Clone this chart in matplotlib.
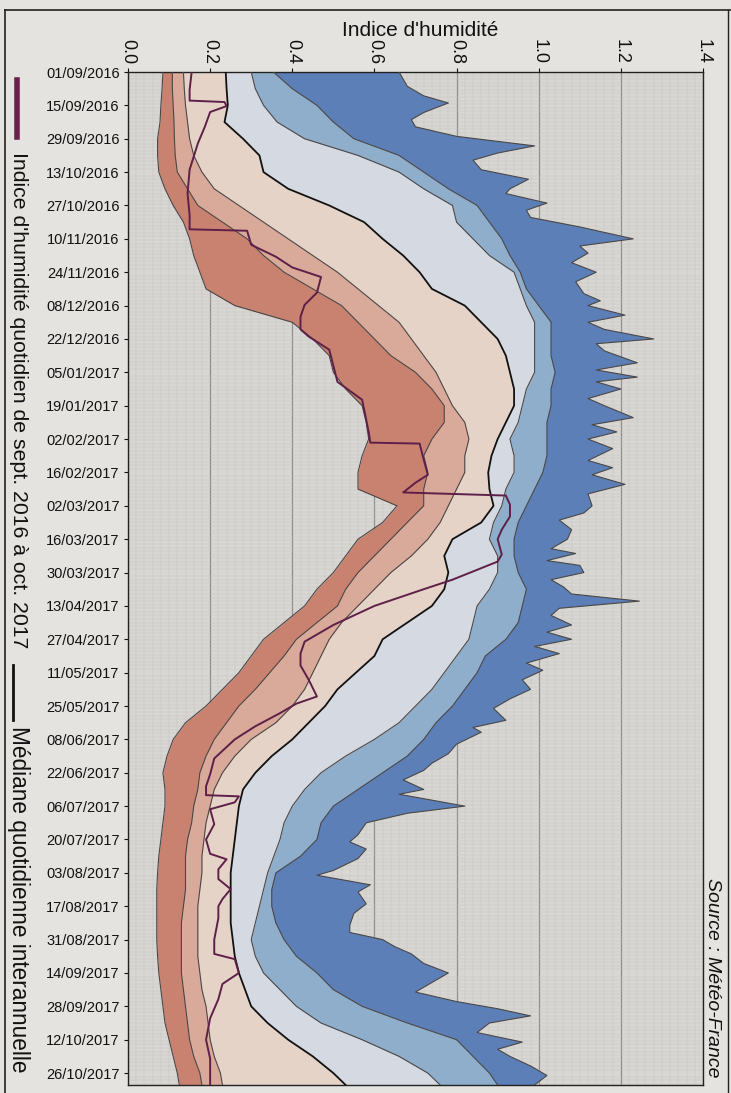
import numpy as np
import pandas as pd
import matplotlib
matplotlib.use('Agg')
import matplotlib.pyplot as plt
from matplotlib.lines import Line2D

plt.rcParams['font.family'] = ['Liberation Sans', 'DejaVu Sans']

# days since 01/09/2016, weekly grid for the percentile bands
start = pd.Timestamp('2016-09-01')
days = np.r_[np.arange(0, 421, 7), 425]

# band edges (indice d'humidite), from driest to wettest
b0 = [0.085, 0.083, 0.080, 0.078, 0.072, 0.072, 0.075, 0.090, 0.110, 0.135,
      0.150, 0.160, 0.175, 0.190, 0.260, 0.400, 0.450, 0.490, 0.500, 0.530,
      0.570, 0.580, 0.586, 0.570, 0.560, 0.560, 0.655, 0.620, 0.560, 0.530,
      0.500, 0.460, 0.430, 0.380, 0.330, 0.300, 0.270, 0.230, 0.190, 0.140,
      0.110, 0.095, 0.085, 0.090, 0.090, 0.085, 0.080, 0.075, 0.072, 0.070,
      0.070, 0.070, 0.070, 0.072, 0.075, 0.080, 0.085, 0.090, 0.100, 0.110,
      0.120, 0.125]
b1 = [0.108, 0.108, 0.110, 0.112, 0.113, 0.115, 0.120, 0.145, 0.170, 0.230,
      0.290, 0.330, 0.380, 0.450, 0.520, 0.560, 0.600, 0.640, 0.700, 0.740,
      0.770, 0.770, 0.740, 0.720, 0.730, 0.720, 0.720, 0.680, 0.640, 0.600,
      0.560, 0.530, 0.510, 0.460, 0.410, 0.380, 0.345, 0.310, 0.270, 0.240,
      0.210, 0.190, 0.175, 0.170, 0.160, 0.155, 0.145, 0.140, 0.140, 0.140,
      0.135, 0.130, 0.130, 0.130, 0.130, 0.135, 0.140, 0.145, 0.150, 0.160,
      0.175, 0.180]
b2 = [0.135, 0.137, 0.140, 0.145, 0.150, 0.160, 0.180, 0.210, 0.270, 0.330,
      0.390, 0.450, 0.510, 0.560, 0.610, 0.660, 0.690, 0.720, 0.750, 0.770,
      0.790, 0.820, 0.830, 0.820, 0.820, 0.800, 0.780, 0.760, 0.730, 0.690,
      0.640, 0.600, 0.560, 0.520, 0.490, 0.470, 0.450, 0.430, 0.400, 0.360,
      0.300, 0.260, 0.230, 0.210, 0.200, 0.190, 0.185, 0.180, 0.180, 0.175,
      0.170, 0.170, 0.170, 0.170, 0.175, 0.180, 0.190, 0.195, 0.200, 0.210,
      0.225, 0.230]
mediane = [0.238, 0.240, 0.243, 0.235, 0.280, 0.320, 0.330, 0.390, 0.490, 0.575,
           0.620, 0.670, 0.710, 0.740, 0.820, 0.860, 0.900, 0.920, 0.930, 0.940,
           0.940, 0.920, 0.900, 0.885, 0.877, 0.880, 0.890, 0.860, 0.790, 0.770,
           0.780, 0.770, 0.740, 0.680, 0.620, 0.600, 0.555, 0.510, 0.480, 0.440,
           0.400, 0.350, 0.310, 0.280, 0.270, 0.265, 0.260, 0.255, 0.250, 0.250,
           0.250, 0.250, 0.255, 0.260, 0.270, 0.285, 0.300, 0.340, 0.390, 0.450,
           0.500, 0.530]
b4 = [0.300, 0.310, 0.330, 0.363, 0.430, 0.560, 0.660, 0.720, 0.790, 0.800,
      0.840, 0.880, 0.940, 0.955, 0.970, 0.990, 0.990, 0.990, 0.990, 0.970,
      0.960, 0.950, 0.930, 0.940, 0.940, 0.920, 0.910, 0.890, 0.880, 0.900,
      0.900, 0.880, 0.850, 0.840, 0.830, 0.800, 0.770, 0.740, 0.700, 0.660,
      0.600, 0.530, 0.470, 0.430, 0.400, 0.380, 0.370, 0.355, 0.340, 0.330,
      0.320, 0.310, 0.300, 0.310, 0.330, 0.370, 0.410, 0.470, 0.570, 0.660,
      0.730, 0.760]
b5 = [0.354, 0.400, 0.460, 0.500, 0.550, 0.660, 0.720, 0.780, 0.850, 0.880,
      0.910, 0.930, 0.955, 0.970, 1.000, 1.030, 1.030, 1.030, 1.040, 1.030,
      1.030, 1.020, 1.020, 1.020, 1.010, 0.990, 0.970, 0.950, 0.940, 0.940,
      0.950, 0.970, 0.960, 0.950, 0.920, 0.870, 0.850, 0.820, 0.790, 0.750,
      0.720, 0.680, 0.620, 0.560, 0.500, 0.470, 0.460, 0.420, 0.360, 0.350,
      0.350, 0.360, 0.380, 0.410, 0.460, 0.500, 0.570, 0.680, 0.800, 0.840,
      0.880, 0.900]

# maximum (right edge of the dark blue band), irregular dates
max_days = [0, 6, 10, 13, 17, 20, 23, 27, 31, 34, 37, 41, 45, 49, 51, 55, 58, 61,
            65, 70, 73, 76, 80, 84, 88, 93, 96, 98, 102, 105, 108, 112, 114, 117,
            122, 125, 128, 130, 133, 137, 140, 145, 148, 151, 154, 158, 163, 166,
            169, 173, 177, 182, 185, 188, 192, 196, 200, 202, 205, 207, 210, 213,
            216, 219, 222, 225, 228, 232, 235, 238, 241, 244, 248, 251, 255, 259,
            263, 267, 272, 275, 277, 282, 286, 290, 293, 297, 301, 303, 308, 311,
            315, 320, 323, 326, 330, 335, 337, 341, 344, 349, 353, 358, 361, 364,
            367, 370, 374, 378, 382, 386, 390, 393, 396, 399, 403, 407, 410, 413,
            417, 421, 425]
max_vals = [0.66, 0.68, 0.72, 0.78, 0.72, 0.69, 0.70, 0.80, 0.99, 0.90, 0.84, 0.86,
            0.975, 0.93, 0.92, 1.02, 0.97, 0.98, 1.10, 1.23, 1.10, 1.12, 1.08, 1.14,
            1.09, 1.11, 1.15, 1.12, 1.21, 1.12, 1.16, 1.28, 1.14, 1.16, 1.24, 1.14,
            1.24, 1.14, 1.20, 1.12, 1.16, 1.23, 1.13, 1.19, 1.12, 1.18, 1.12, 1.18,
            1.13, 1.21, 1.12, 1.13, 1.11, 1.05, 1.08, 1.07, 1.03, 1.09, 1.02, 1.10,
            1.11, 1.03, 1.06, 1.08, 1.245, 1.05, 1.03, 1.08, 1.02, 1.08, 0.99, 1.05,
            0.97, 1.01, 0.96, 0.98, 0.93, 0.89, 0.92, 0.84, 0.86, 0.80, 0.78, 0.74,
            0.72, 0.67, 0.72, 0.66, 0.82, 0.68, 0.58, 0.56, 0.54, 0.58, 0.56, 0.50,
            0.46, 0.59, 0.56, 0.58, 0.55, 0.54, 0.54, 0.62, 0.65, 0.69, 0.72, 0.78,
            0.74, 0.70, 0.80, 0.90, 0.98, 0.88, 0.85, 0.96, 0.90, 0.93, 0.98, 1.02,
            0.99]

# indice d'humidite quotidien sept. 2016 - oct. 2017
cur_days = [0, 7.5, 12.0, 12.6, 14.3, 16.8, 23, 30, 41, 51, 60, 66.0, 66.6, 72.5,
            77.5, 82, 86, 92.6, 97.7, 102.7, 108, 111, 116.5, 130, 137.5, 151,
            155.5, 155.9, 162.6, 169, 172.3, 176.4, 177.7, 181.5, 186.5, 192, 196,
            202.4, 205.4, 213, 217, 224, 232, 239, 244, 249, 255, 262, 265, 269,
            274.5, 280, 288, 294.6, 299.7, 303.4, 303.9, 306.4, 309.3, 315.6, 322,
            328, 330.3, 334.5, 338.6, 342.8, 347, 350, 355, 364, 370, 372.2, 378,
            382.6, 389, 397, 406, 414, 420, 425]
cur_vals = [0.155, 0.15, 0.15, 0.235, 0.24, 0.20, 0.187, 0.17, 0.15, 0.145, 0.15,
            0.15, 0.29, 0.30, 0.36, 0.40, 0.47, 0.46, 0.43, 0.42, 0.42, 0.44, 0.49,
            0.51, 0.57, 0.586, 0.59, 0.71, 0.72, 0.73, 0.70, 0.67, 0.92, 0.93, 0.93,
            0.91, 0.90, 0.91, 0.90, 0.79, 0.72, 0.60, 0.50, 0.43, 0.42, 0.42, 0.44,
            0.46, 0.41, 0.37, 0.31, 0.26, 0.21, 0.20, 0.19, 0.19, 0.27, 0.26, 0.20,
            0.21, 0.19, 0.20, 0.24, 0.22, 0.22, 0.25, 0.23, 0.22, 0.22, 0.21, 0.21,
            0.26, 0.27, 0.23, 0.22, 0.20, 0.19, 0.20, 0.20, 0.20]

x_ticks = [0.0, 0.2, 0.4, 0.6, 0.8, 1.0, 1.2, 1.4]
date_ticks = np.arange(0, 421, 14)
date_labels = [(start + pd.Timedelta(days=int(d))).strftime('%d/%m/%Y') for d in date_ticks]

band_colors = ['#c98270', '#d9a999', '#e6d3c8', '#d5d9e1', '#8eaecb', '#5b7fb6']
paper = '#e5e3e0'

fig = plt.figure(figsize=(7.31, 10.93), dpi=100, facecolor=paper)
ax = fig.add_axes([128 / 731, 1 - 1085 / 1093, 575 / 731, 1013 / 1093])
ax.set_facecolor('#d9d7d4')

edges = [b0, b1, b2, mediane, b4, b5]
for lo, hi, col in zip(edges[:-1], edges[1:], band_colors[:-1]):
    ax.fill_betweenx(days, lo, hi, color=col, lw=0, zorder=2)
# top band: polygon between b5 (weekly) and the irregular maximum
ax.fill(np.r_[b5, max_vals[::-1]], np.r_[days, max_days[::-1]],
        color=band_colors[-1], lw=0, zorder=2)

for e in [b0, b1, b2, b4, b5]:
    ax.plot(e, days, color='#4b4747', lw=0.8, zorder=3)
ax.plot(max_vals, max_days, color='#4b4747', lw=0.8, zorder=3)
ax.plot(mediane, days, color='#111111', lw=1.3, zorder=4)
ax.plot(cur_vals, cur_days, color='#5e1f48', lw=1.4, zorder=5)

ax.set_xlim(0, 1.4)
ax.set_ylim(425, 0)
ax.xaxis.tick_top()
ax.set_xticks(x_ticks)
ax.set_xticklabels(['%.1f' % v for v in x_ticks], rotation=-90, fontsize=13)
ax.set_yticks(date_ticks)
ax.set_yticklabels(date_labels, fontsize=10.5)
ax.tick_params(axis='both', which='major', length=3, width=0.8, pad=3, colors='#111111')

# fine background grid like the printed chart
ax.set_xticks(np.arange(0, 1.401, 0.02), minor=True)
ax.set_yticks(np.arange(0, 426, 1.5), minor=True)
ax.tick_params(which='minor', length=0)
ax.grid(which='minor', color='#c6c4c1', lw=0.35, zorder=0)
ax.grid(which='major', axis='x', color='#8d8b88', lw=0.9, zorder=1)
ax.set_axisbelow(True)
for s in ax.spines.values():
    s.set_color('#222222')
    s.set_linewidth(1.0)

fig.text(420 / 731, 1 - 31 / 1093, "Indice d'humidité", fontsize=15,
         ha='center', va='center', color='#111111')

# legend drawn vertically on the left
fig.add_artist(Line2D([17 / 731, 17 / 731], [1 - 80 / 1093, 1 - 137 / 1093],
                      color='#6a1f4f', lw=4))
fig.text(18 / 731, 1 - 152 / 1093, "Indice d'humidité quotidien de sept. 2016 à oct. 2017",
         rotation=-90, fontsize=15.3, ha='center', va='top', color='#111111')
fig.add_artist(Line2D([13 / 731, 13 / 731], [1 - 665 / 1093, 1 - 720 / 1093],
                      color='#111111', lw=2))
fig.text(18 / 731, 1 - 726 / 1093, "Médiane quotidienne interannuelle",
         rotation=-90, fontsize=16.3, ha='center', va='top', color='#111111')

fig.text(713 / 731, 1 - 978 / 1093, 'Source : Météo-France', rotation=-90,
         fontsize=14, style='italic', ha='center', va='center', color='#111111')

# frame of the printed box
fig.add_artist(Line2D([5 / 731, 5 / 731], [0, 1 - 10 / 1093], color='#222222', lw=1.2))
fig.add_artist(Line2D([5 / 731, 1], [1 - 10 / 1093, 1 - 10 / 1093], color='#222222', lw=1.2))
fig.add_artist(Line2D([728 / 731, 728 / 731], [0, 1 - 10 / 1093], color='#222222', lw=1.0))

fig.savefig('out.png', dpi=100, facecolor=paper)
